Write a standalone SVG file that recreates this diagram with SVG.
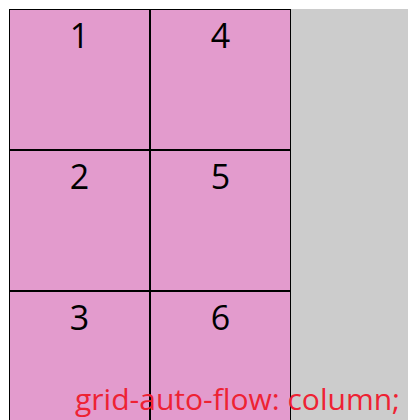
<svg xmlns="http://www.w3.org/2000/svg" width="408" height="420" viewBox="0 0 408 420">
<style>
.cell rect{fill:#e39bcd;stroke:#000;stroke-width:1}
.cell text{font-family:"Open Sans","Liberation Sans",sans-serif;font-size:34px;fill:#000;text-anchor:middle}
.caption{font-family:"Open Sans","Liberation Sans",sans-serif;font-size:30px;fill:#ee2233}
</style>
<rect x="0" y="0" width="408" height="420" fill="#fff"/>
<rect id="container" x="9" y="9" width="399" height="411" fill="#cccccc"/>
<g id="item1" class="cell"><rect x="9.5" y="9.5" width="140" height="140"/><text x="79.5" y="48">1</text></g>
<g id="item2" class="cell"><rect x="9.5" y="150.5" width="140" height="140"/><text x="79.5" y="189">2</text></g>
<g id="item3" class="cell"><rect x="9.5" y="291.5" width="140" height="140"/><text x="79.5" y="330">3</text></g>
<g id="item4" class="cell"><rect x="150.5" y="9.5" width="140" height="140"/><text x="220.5" y="48">4</text></g>
<g id="item5" class="cell"><rect x="150.5" y="150.5" width="140" height="140"/><text x="220.5" y="189">5</text></g>
<g id="item6" class="cell"><rect x="150.5" y="291.5" width="140" height="140"/><text x="220.5" y="330">6</text></g>
<text class="caption" x="75" y="410" textLength="325" lengthAdjust="spacingAndGlyphs">grid-auto-flow: column;</text>
</svg>
